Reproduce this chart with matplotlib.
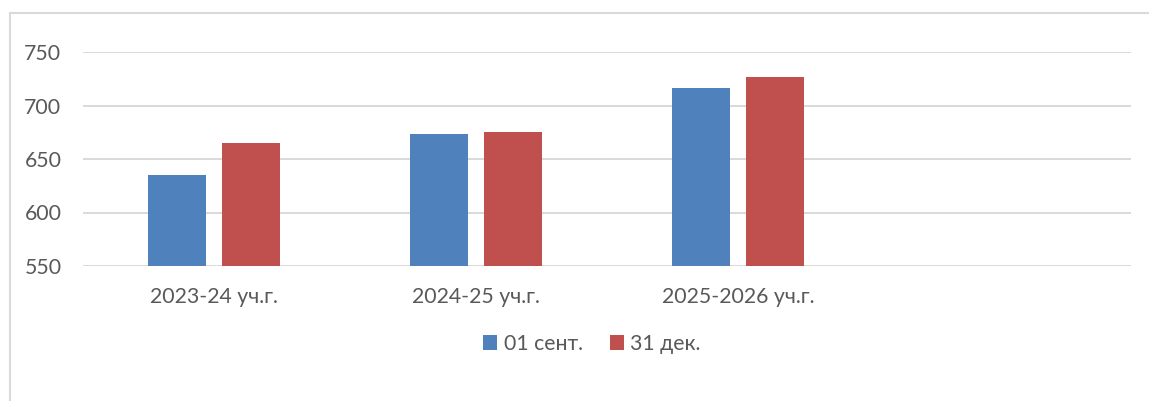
import matplotlib
matplotlib.use("Agg")
import matplotlib.pyplot as plt
from matplotlib.patches import Rectangle
import numpy as np

categories = ["2023-24 уч.г.", "2024-25 уч.г.", "2025-2026 уч.г.", ""]
series_names = ["01 сент.", "31 дек."]
sept_values = [635, 673, 716, np.nan]
dec_values = [665, 675, 727, np.nan]
colors = ["#4F81BD", "#C0504D"]
yticks = [550, 600, 650, 700, 750]

plt.rcParams['font.family'] = ['Lato', 'DejaVu Sans']
text_color = "#595959"
grid_color = "#D9D9D9"

W, H = 1149, 401
fig = plt.figure(figsize=(W / 100, H / 100), dpi=100)
ax = fig.add_axes([83 / W, 1 - 266 / H, (1131 - 83) / W, (266 - 52) / H])

x = np.arange(len(categories))
bw = 0.222
gap = 0.06
off = (bw + gap) / 2
ax.bar(x - off, sept_values, bw, color=colors[0], label=series_names[0], zorder=3)
ax.bar(x + off, dec_values, bw, color=colors[1], label=series_names[1], zorder=3)

ax.set_xlim(-0.5, len(categories) - 0.5)
ax.set_ylim(550, 750)
ax.set_yticks(yticks)
ax.set_xticks(x)
ax.set_xticklabels(categories)
ax.yaxis.grid(True, color=grid_color, linewidth=1.4, zorder=0)
for s in ax.spines.values():
    s.set_visible(False)
ax.tick_params(axis='both', length=0, labelsize=15.3, colors=text_color)
ax.tick_params(axis='y', pad=15.5)
ax.tick_params(axis='x', pad=15)

leg = fig.legend(loc='center', bbox_to_anchor=(592 / W, 1 - 344 / H), ncol=2,
                 frameon=False, fontsize=15.3, handlelength=0.65, handleheight=0.65,
                 handletextpad=0.3, columnspacing=1.3)
for t in leg.get_texts():
    t.set_color(text_color)

fig.patches.append(Rectangle((10 / W, -0.1), 1.5, 1 - 13 / H + 0.1, transform=fig.transFigure,
                             fill=False, edgecolor=grid_color, linewidth=1.5))

fig.savefig("out.png", dpi=100, facecolor="white")
